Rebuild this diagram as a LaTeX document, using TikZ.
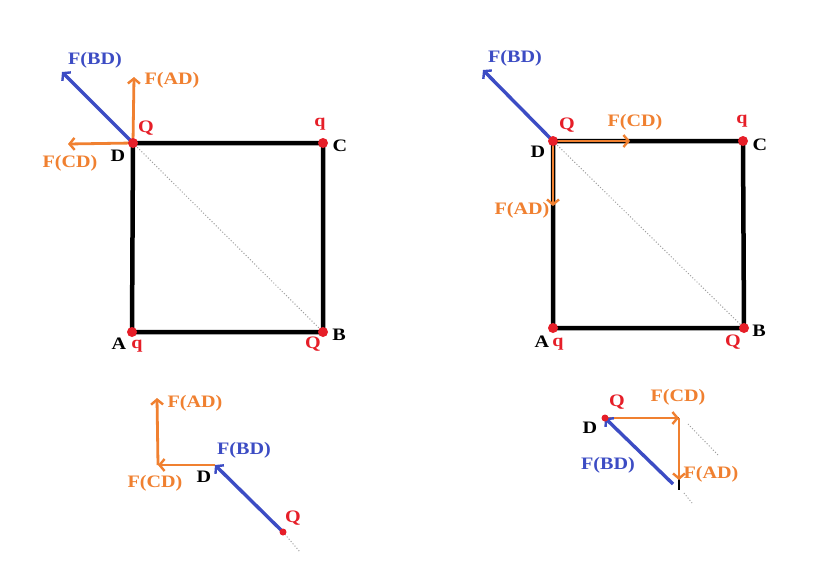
\documentclass[tikz,border=0pt]{standalone}
\usepackage{fontspec}
\setmainfont{Liberation Serif}[FakeStretch=1.15]
\usetikzlibrary{arrows.meta}
\definecolor{sqorange}{RGB}{240,128,48}
\definecolor{sqblue}{RGB}{60,76,196}
\definecolor{sqred}{RGB}{230,30,40}
\tikzset{
  side/.style={line width=4.5pt, line cap=square},
  diag/.style={gray!75, line width=1pt, dotted},
  charge/.style={circle, fill=sqred, inner sep=0pt, minimum size=10pt},
  lbl/.style={font=\bfseries\fontsize{17.5}{17.5}\selectfont, inner sep=0pt},
  olbl/.style={lbl, text=sqorange},
  blbl/.style={lbl, text=sqblue},
  rlbl/.style={lbl, text=sqred},
  force/.style={line width=2.8pt, -{Straight Barb[length=5pt,width=12pt,line width=2.4pt]}},
  oforce/.style={force, sqorange},
  bforce/.style={force, sqblue, line width=3.4pt}
}
\begin{document}
\begin{tikzpicture}[x=1pt,y=-1pt]
\useasboundingbox[fill=white] (0,0) rectangle (828,566);

% ---------------- top-left square ----------------
\coordinate (lD) at (133,143);
\coordinate (lC) at (323,143);
\coordinate (lA) at (132,332);
\coordinate (lB) at (323,332);
\draw[diag] (lD) -- (lB);
\draw[side] (lA) -- (lB) -- (lC) -- (lD) -- cycle;
\coordinate (lBDt) at (62,72);
\coordinate (lADt) at (134,77);
\coordinate (lCDt) at (68,144);
\draw[bforce] (lD) -- (lBDt);
\draw[oforce] (lD) -- (lADt);
\draw[oforce] (lD) -- (lCDt);
\node[charge] (lDc) at (lD) {};
\node[charge] (lCc) at (lC) {};
\node[charge] (lAc) at (lA) {};
\node[charge] (lBc) at (lB) {};
\node[blbl] (lFBD) at (95,60) {F(BD)};
\node[olbl] (lFAD) at (172,80) {F(AD)};
\node[olbl] (lFCD) at (70,163) {F(CD)};
\node[rlbl] (lQD) at (146,128) {Q};
\node[lbl] (lDl) at (118,156) {D};
\node[rlbl] (lqC) at (320,124) {q};
\node[lbl] (lCl) at (340,146) {C};
\node[lbl] (lAl) at (119,344) {A};
\node[rlbl] (lqA) at (137,346) {q};
\node[lbl] (lBl) at (339,335) {B};
\node[rlbl] (lQB) at (313,344) {Q};

% ---------------- top-right square ----------------
\coordinate (rD) at (553,141);
\coordinate (rC) at (743,141);
\coordinate (rA) at (553,328);
\coordinate (rB) at (744,328);
\draw[diag] (rD) -- (rB);
\draw[side] (rA) -- (rB) -- (rC) -- (rD) -- cycle;
\coordinate (rBDt) at (483,70);
\coordinate (rCDt) at (630,141);
\coordinate (rADt) at (553,206);
\draw[bforce] (rD) -- (rBDt);
\draw[oforce] (rD) -- (rCDt);
\draw[oforce] (rD) -- (rADt);
\node[charge] (rDc) at (rD) {};
\node[charge] (rCc) at (rC) {};
\node[charge] (rAc) at (rA) {};
\node[charge] (rBc) at (rB) {};
\node[blbl] (rFBD) at (515,58) {F(BD)};
\node[olbl] (rFCD) at (635,122) {F(CD)};
\node[olbl] (rFAD) at (522,210) {F(AD)};
\node[rlbl] (rQD) at (567,125) {Q};
\node[lbl] (rDl) at (538,152) {D};
\node[rlbl] (rqC) at (742,121) {q};
\node[lbl] (rCl) at (760,145) {C};
\node[lbl] (rAl) at (542,342) {A};
\node[rlbl] (rqA) at (558,344) {q};
\node[lbl] (rBl) at (759,331) {B};
\node[rlbl] (rQB) at (733,342) {Q};

% ---------------- bottom-left sketch ----------------
\coordinate (bD) at (215,465);
\coordinate (bK) at (158,465);
\coordinate (bADt) at (157,398);
\coordinate (bQ) at (283,532);
\coordinate (bEnd) at (300,552);
\draw[diag] (bQ) -- (bEnd);
\draw[oforce] (bD) -- (bK);
\draw[oforce] (bK) -- (bADt);
\draw[bforce] (bQ) -- (bD);
\node[charge, minimum size=7pt] (bQc) at (bQ) {};
\node[olbl] (bFAD) at (195,403) {F(AD)};
\node[olbl] (bFCD) at (155,483) {F(CD)};
\node[blbl] (bFBD) at (244,450) {F(BD)};
\node[lbl] (bDl) at (204,477) {D};
\node[rlbl] (bQl) at (293,518) {Q};

% ---------------- bottom-right sketch ----------------
\coordinate (eD) at (605,418);
\coordinate (eK) at (679,418);
\coordinate (eADt) at (679,480);
\coordinate (eS1) at (679,478);
\coordinate (eS2) at (679,490);
\coordinate (eQ) at (673,484);
\coordinate (eG1) at (688,424);
\coordinate (eG2) at (718,455);
\coordinate (eG3) at (684,493);
\coordinate (eG4) at (692,503);
\draw[diag] (eG1) -- (eG2);
\draw[diag] (eG3) -- (eG4);
\draw[line width=2.5pt] (eD) -- (eK);
\draw[line width=2.5pt] (eS1) -- (eS2);
\draw[oforce] (eD) -- (eK);
\draw[oforce] (eK) -- (eADt);
\draw[bforce] (eQ) -- (eD);
\node[charge, minimum size=7pt] (eDc) at (eD) {};
\node[rlbl] (eQl) at (617,402) {Q};
\node[olbl] (eFCD) at (678,397) {F(CD)};
\node[lbl] (eDl) at (590,428) {D};
\node[blbl] (eFBD) at (608,465) {F(BD)};
\node[olbl] (eFAD) at (711,474) {F(AD)};
\end{tikzpicture}
\end{document}
